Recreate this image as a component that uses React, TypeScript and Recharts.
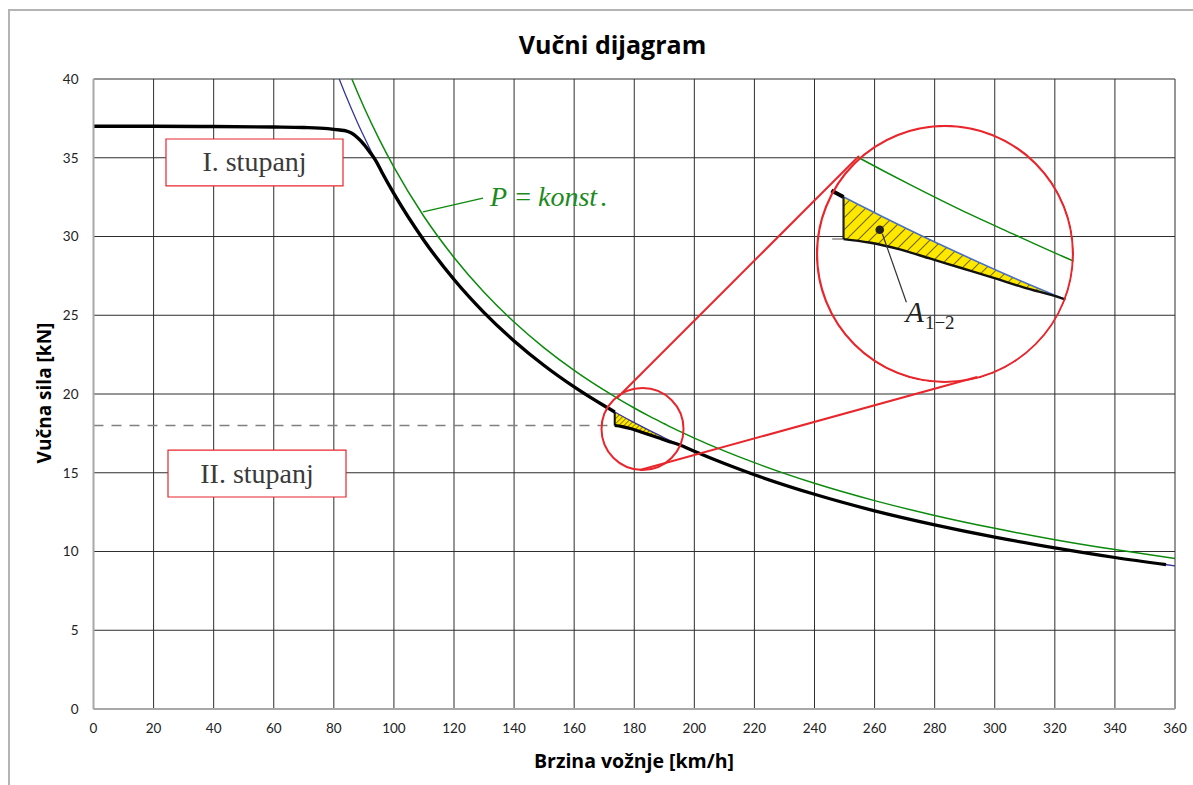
import React from 'react';
import {
  ComposedChart,
  Line,
  Area,
  XAxis,
  YAxis,
  CartesianGrid,
  ReferenceArea,
  ReferenceLine,
  ReferenceDot,
} from 'recharts';

// ---------- axis ticks ----------
const xTicks = [0, 20, 40, 60, 80, 100, 120, 140, 160, 180, 200, 220, 240, 260, 280, 300, 320, 340, 360];
const yTicks = [0, 5, 10, 15, 20, 25, 30, 35, 40];

// ---------- traction curve, 1st gear (black) ----------
const gear1Speed = [0, 20, 40, 60, 70, 78, 82, 84, 86, 88, 90, 92, 94, 96, 100, 110, 120, 130, 140, 150, 160, 170, 173.5];
const gear1Force = [37, 37, 36.98, 36.95, 36.92, 36.85, 36.76, 36.7, 36.55, 36.25, 35.85, 35.35, 34.8, 34.08, 32.72, 29.75, 27.27, 25.17, 23.37, 21.81, 20.45, 19.25, 18.86];

// ---------- gear shift drop ----------
const shiftSpeed = [173.5, 173.5];
const shiftForce = [18.86, 18.0];

// ---------- traction curve, 2nd gear (black) ----------
const gear2Speed = [173.5, 176, 179, 182, 185, 188, 191, 195, 200, 210, 220, 240, 260, 280, 300, 320, 340, 357];
const gear2Force = [18.0, 17.93, 17.79, 17.6, 17.41, 17.22, 17.02, 16.78, 16.36, 15.58, 14.87, 13.63, 12.58, 11.69, 10.91, 10.23, 9.62, 9.17];

// ---------- ideal hyperbola (blue) ----------
const hypSpeed = [81.8, 84, 86, 88, 90, 93, 95, 100, 110, 120, 130, 140, 150, 160, 170, 175, 180, 185, 190, 195, 200, 220, 240, 260, 280, 300, 320, 340, 360];
const hypForce = [40.0, 38.95, 38.05, 37.18, 36.36, 35.18, 34.44, 32.72, 29.75, 27.27, 25.17, 23.37, 21.81, 20.45, 19.25, 18.7, 18.18, 17.69, 17.22, 16.78, 16.36, 14.87, 13.63, 12.58, 11.69, 10.91, 10.23, 9.62, 9.09];

// ---------- P = konst. (green) ----------
const pkSpeed = [86, 88, 90, 95, 100, 110, 120, 130, 140, 150, 160, 170, 175, 180, 185, 190, 195, 200, 220, 240, 260, 280, 300, 320, 340, 360];
const pkForce = [40.0, 39.09, 38.22, 36.21, 34.4, 31.27, 28.67, 26.46, 24.57, 22.93, 21.5, 20.24, 19.66, 19.11, 18.59, 18.11, 17.64, 17.2, 15.64, 14.33, 13.23, 12.29, 11.47, 10.75, 10.12, 9.56];

// ---------- shaded area A1-2 ----------
const areaSpeed = [173.5, 176, 179, 182, 185, 188, 191, 195];
const areaLow = [18.0, 17.93, 17.79, 17.6, 17.41, 17.22, 17.02, 16.78];
const areaHigh = [18.86, 18.59, 18.28, 17.98, 17.69, 17.4, 17.13, 16.78];

// ---------- dashed shift level ----------
const levelSpeed = [0, 173.5];
const levelForce = [18, 18];

const rows = (xs: number[], ys: number[]) => xs.map((v, i) => ({ v, f: ys[i] }));
const gear1Rows = rows(gear1Speed, gear1Force);
const shiftRows = rows(shiftSpeed, shiftForce);
const gear2Rows = rows(gear2Speed, gear2Force);
const hypRows = rows(hypSpeed, hypForce);
const pkRows = rows(pkSpeed, pkForce);
const levelRows = rows(levelSpeed, levelForce);
const areaRows = areaSpeed.map((v, i) => ({ v, r: [areaLow[i], areaHigh[i]] }));

const RED = '#e8262c';
const GREEN = '#0b8a0b';
const BLUE = '#35359a';
const SERIF = '"Liberation Serif", "Times New Roman", serif';
const SANS = 'Lato, "Open Sans", sans-serif';
const TITLE = '"Open Sans", Lato, sans-serif';

const BoxText = (props: any) => {
  const { viewBox, text } = props;
  const { x, y, width, height } = viewBox;
  return (
    <text
      x={x + width / 2}
      y={y + height / 2 + 9}
      textAnchor="middle"
      fontFamily={SERIF}
      fontSize={28}
      fill="#3a3a3a"
    >
      {text}
    </text>
  );
};

const PText = (p: any) => (
  <text x={p.cx} y={p.cy} fontFamily={SERIF} fontSize={28} fill="#1d8a1d">
    <tspan fontStyle="italic">P</tspan>
    <tspan dx={8}>=</tspan>
    <tspan dx={7} fontStyle="italic">konst</tspan>
    <tspan dx={3}>.</tspan>
  </text>
);

const AText = (p: any) => (
  <text x={p.cx} y={p.cy} fontFamily={SERIF} fill="#222">
    <tspan fontStyle="italic" fontSize={30}>A</tspan>
    <tspan fontSize={19} dx={1} dy={7}>1−2</tspan>
  </text>
);

const lineCommon = { dot: false, activeDot: false, isAnimationActive: false, dataKey: 'f' } as const;

export default function App() {
  return (
    <div style={{ position: 'relative', width: 1193, height: 785, overflow: 'hidden', background: '#fff' }}>
      <style>{'body{margin:0;overflow:hidden;}'}</style>
      <div
        style={{
          position: 'absolute',
          left: 8,
          top: 9,
          width: 1200,
          height: 800,
          borderLeft: '2px solid #b4b4b4',
          borderTop: '2px solid #b4b4b4',
        }}
      />
      <div
        style={{
          position: 'absolute',
          left: 612.5,
          top: 44,
          transform: 'translate(-50%,-50%)',
          fontFamily: TITLE,
          fontWeight: 700,
          fontSize: 25,
          whiteSpace: 'nowrap',
          color: '#000',
        }}
      >
        Vučni dijagram
      </div>
      <div
        style={{
          position: 'absolute',
          left: 44,
          top: 393,
          transform: 'translate(-50%,-50%) rotate(-90deg)',
          fontFamily: TITLE,
          fontWeight: 700,
          fontSize: 19,
          whiteSpace: 'nowrap',
          color: '#000',
        }}
      >
        Vučna sila [kN]
      </div>
      <div
        style={{
          position: 'absolute',
          left: 634,
          top: 760,
          transform: 'translate(-50%,-50%)',
          fontFamily: TITLE,
          fontWeight: 700,
          fontSize: 19.5,
          whiteSpace: 'nowrap',
          color: '#000',
        }}
      >
        Brzina vožnje [km/h]
      </div>

      <div style={{ position: 'absolute', left: 0, top: 0 }}>
        <ComposedChart width={1193} height={785} margin={{ top: 79, right: 18, bottom: 46, left: 33.5 }}>
          <defs>
            <pattern id="hatchS" patternUnits="userSpaceOnUse" width="3.6" height="3.6" patternTransform="rotate(45)">
              <rect width="3.6" height="3.6" fill="#ffe800" />
              <line x1="0" y1="0" x2="0" y2="3.6" stroke="#000" strokeWidth="0.9" />
            </pattern>
          </defs>
          <CartesianGrid stroke="#2e2e2e" strokeWidth={1} />
          <XAxis
            type="number"
            dataKey="v"
            domain={[0, 360]}
            ticks={xTicks}
            interval={0}
            allowDataOverflow
            tickLine={false}
            axisLine={{ stroke: '#a8a8a8', strokeWidth: 2 }}
            tick={{ fontSize: 13.5, fill: '#222', fontFamily: SANS }}
            tickSize={6}
            tickMargin={8}
            height={30}
          />
          <YAxis
            type="number"
            domain={[0, 40]}
            ticks={yTicks}
            interval={0}
            allowDataOverflow
            tickLine={false}
            axisLine={{ stroke: '#a8a8a8', strokeWidth: 2 }}
            tick={{ fontSize: 13.5, fill: '#222', fontFamily: SANS }}
            tickSize={6}
            tickMargin={9}
            width={60}
          />
          <ReferenceArea x1={24.13} x2={83.05} y1={33.21} y2={36.19} fill="#fff" fillOpacity={1} stroke={RED} strokeWidth={1.2} label={<BoxText text="I. stupanj" />} />
          <ReferenceArea x1={24.8} x2={84.05} y1={13.46} y2={16.44} fill="#fff" fillOpacity={1} stroke={RED} strokeWidth={1.2} label={<BoxText text="II. stupanj" />} />
          <Line {...lineCommon} data={levelRows} type="linear" stroke="#808080" strokeWidth={1.3} strokeDasharray="10 8" />
          <Line {...lineCommon} data={pkRows} type="monotone" stroke={GREEN} strokeWidth={1.5} />
          <Area data={areaRows} dataKey="r" type="monotone" fill="url(#hatchS)" fillOpacity={1} stroke="none" isAnimationActive={false} activeDot={false} />
          <Line {...lineCommon} data={hypRows} type="monotone" stroke={BLUE} strokeWidth={1.3} />
          <Line {...lineCommon} data={gear1Rows} type="monotone" stroke="#000" strokeWidth={3.4} />
          <Line {...lineCommon} data={shiftRows} type="linear" stroke="#111" strokeWidth={2} />
          <Line {...lineCommon} data={gear2Rows} type="monotone" stroke="#000" strokeWidth={3.2} />
          <ReferenceLine segment={[{ x: 109.7, y: 31.56 }, { x: 129.66, y: 32.44 }]} stroke={GREEN} strokeWidth={1.3} />
          <ReferenceDot x={132} y={31.94} r={0} shape={PText} />
          <ReferenceDot x={182.75} y={17.78} r={41} fill="none" stroke={RED} strokeWidth={2} />
          <ReferenceLine segment={[{ x: 174.27, y: 19.75 }, { x: 254.8, y: 35.11 }]} stroke={RED} strokeWidth={2} />
          <ReferenceLine segment={[{ x: 181.9, y: 15.17 }, { x: 294.1, y: 21.08 }]} stroke={RED} strokeWidth={2} />
        </ComposedChart>
      </div>

      <div
        style={{
          position: 'absolute',
          left: 815.5,
          top: 124.5,
          width: 258,
          height: 258,
          clipPath: 'circle(129.5px at 129px 129px)',
        }}
      >
        <ComposedChart width={258} height={258} margin={{ top: 0, right: 0, bottom: 0, left: 0 }}>
          <defs>
            <pattern id="hatchL" patternUnits="userSpaceOnUse" width="8.5" height="8.5" patternTransform="rotate(45)">
              <rect width="8.5" height="8.5" fill="#ffe800" />
              <line x1="0" y1="0" x2="0" y2="8.5" stroke="#000" strokeWidth="1.1" />
            </pattern>
          </defs>
          <XAxis type="number" dataKey="v" domain={[170.81, 196.02]} allowDataOverflow hide />
          <YAxis type="number" domain={[15.063, 20.328]} allowDataOverflow hide />
          <ReferenceLine segment={[{ x: 172.39, y: 18.0 }, { x: 173.5, y: 18.0 }]} stroke="#8a8a8a" strokeWidth={1.5} />
          <Line {...lineCommon} data={pkRows} type="monotone" stroke={GREEN} strokeWidth={1.5} />
          <Area data={areaRows} dataKey="r" type="monotone" fill="url(#hatchL)" fillOpacity={1} stroke="none" isAnimationActive={false} activeDot={false} />
          <Line {...lineCommon} data={hypRows} type="monotone" stroke="#4a6fc4" strokeWidth={1.6} />
          <Line {...lineCommon} data={gear1Rows} type="monotone" stroke="#000" strokeWidth={4} />
          <Line {...lineCommon} data={shiftRows} type="linear" stroke="#222" strokeWidth={2.2} />
          <Line {...lineCommon} data={gear2Rows} type="monotone" stroke="#111" strokeWidth={2.4} />
          <ReferenceLine segment={[{ x: 177.29, y: 18.11 }, { x: 179.64, y: 16.71 }]} stroke="#333" strokeWidth={1.2} />
          <ReferenceDot x={177.04} y={18.19} r={4.3} fill="#222" stroke="none" />
          <ReferenceDot x={179.56} y={16.3} r={0} shape={AText} />
          <ReferenceDot x={183.415} y={17.696} r={128} fill="none" stroke={RED} strokeWidth={2.2} />
        </ComposedChart>
      </div>
    </div>
  );
}
